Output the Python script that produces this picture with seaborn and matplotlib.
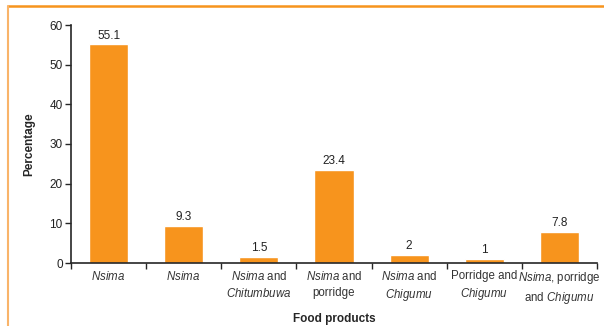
import numpy as np
import pandas as pd
import matplotlib
matplotlib.use("Agg")
from matplotlib import pyplot as plt
from matplotlib.lines import Line2D
import seaborn as sns

sns.set_style("ticks")

# data
categories = [
    r"$\it{Nsima}$",
    r"$\it{Nsima}$ ",
    "$\\it{Nsima}$ and\n$\\it{Chitumbuwa}$",
    "$\\it{Nsima}$ and\nporridge",
    "$\\it{Nsima}$ and\n$\\it{Chigumu}$",
    "Porridge and\n$\\it{Chigumu}$",
    "$\\it{Nsima}$, porridge\nand $\\it{Chigumu}$",
]
values = [55.1, 9.3, 1.5, 23.4, 2, 1, 7.8]
value_labels = ["55.1", "9.3", "1.5", "23.4", "2", "1", "7.8"]

plt.rcParams["font.family"] = ["Liberation Sans", "DejaVu Sans"]
plt.rcParams["mathtext.fontset"] = "custom"
plt.rcParams["mathtext.it"] = "Liberation Sans:italic"
plt.rcParams["mathtext.rm"] = "Liberation Sans"

df = pd.DataFrame({"Food": categories, "Percentage": values})

fig = plt.figure(figsize=(6.04, 3.26), dpi=100)
ax = fig.add_axes([71/604, 1-263/326, (597-71)/604, (263-25)/326])

sns.barplot(data=df, x="Food", y="Percentage", color="#F7941D",
            saturation=1, width=0.52, ax=ax)

for i, (v, lab) in enumerate(zip(values, value_labels)):
    ax.text(i, v + 0.7, lab, ha="center", va="bottom", fontsize=8.5, color="#222222")

ax.set_ylim(0, 60)
ax.set_xlim(-0.5, 6.5)
ax.set_yticks(range(0, 61, 10))
ax.set_xticks(np.arange(-0.5, 7, 1), minor=True)
ax.tick_params(axis="x", which="major", length=0, pad=5, labelsize=8.3, labelcolor="#333333")
ax.tick_params(axis="x", which="minor", length=4, width=1, direction="out")
ax.tick_params(axis="y", length=4, width=1, labelsize=8.5, pad=2, labelcolor="#222222")
ax.set_xticklabels(categories, linespacing=1.4)

sns.despine(ax=ax)
ax.spines["left"].set_linewidth(1.2)
ax.spines["bottom"].set_linewidth(1.2)

ax.set_xlabel("Food products", fontsize=8.5, fontweight="bold", labelpad=5)
ax.set_ylabel("Percentage", fontsize=8.5, fontweight="bold", labelpad=10)

# orange frame lines
fig.add_artist(Line2D([8/604, 1], [1-6/326, 1-6/326], color="#F7941D", lw=1.8,
                      transform=fig.transFigure))
fig.add_artist(Line2D([8/604, 8/604], [0, 1-6/326], color="#F9B46A", lw=1.5,
                      transform=fig.transFigure))

fig.savefig("out.png", dpi=100)
